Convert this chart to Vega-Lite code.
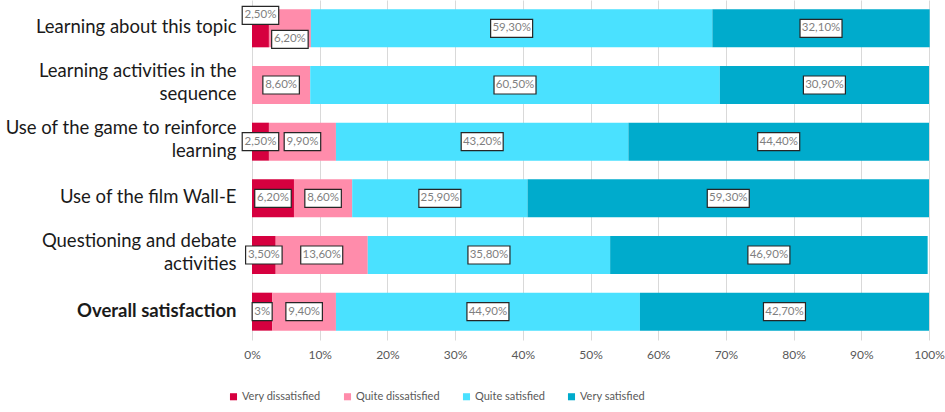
{
  "$schema": "https://vega.github.io/schema/vega-lite/v6.json",
  "width": 677,
  "height": 340,
  "autosize": {"type": "none"},
  "padding": {"left": 252, "top": 0, "right": 16, "bottom": 72},
  "background": "white",
  "config": {"view": {"stroke": null}, "font": "Lato"},
  "data": {
    "values": [
      {"item": "Learning about this topic", "level": "Very dissatisfied", "value": 2.5, "label": "2,50%"},
      {"item": "Learning about this topic", "level": "Quite dissatisfied", "value": 6.2, "label": "6,20%"},
      {"item": "Learning about this topic", "level": "Quite satisfied", "value": 59.3, "label": "59,30%"},
      {"item": "Learning about this topic", "level": "Very satisfied", "value": 32.1, "label": "32,10%"},
      {"item": "Learning activities in the sequence", "level": "Quite dissatisfied", "value": 8.6, "label": "8,60%"},
      {"item": "Learning activities in the sequence", "level": "Quite satisfied", "value": 60.5, "label": "60,50%"},
      {"item": "Learning activities in the sequence", "level": "Very satisfied", "value": 30.9, "label": "30,90%"},
      {"item": "Use of the game to reinforce learning", "level": "Very dissatisfied", "value": 2.5, "label": "2,50%"},
      {"item": "Use of the game to reinforce learning", "level": "Quite dissatisfied", "value": 9.9, "label": "9,90%"},
      {"item": "Use of the game to reinforce learning", "level": "Quite satisfied", "value": 43.2, "label": "43,20%"},
      {"item": "Use of the game to reinforce learning", "level": "Very satisfied", "value": 44.4, "label": "44,40%"},
      {"item": "Use of the film Wall-E", "level": "Very dissatisfied", "value": 6.2, "label": "6,20%"},
      {"item": "Use of the film Wall-E", "level": "Quite dissatisfied", "value": 8.6, "label": "8,60%"},
      {"item": "Use of the film Wall-E", "level": "Quite satisfied", "value": 25.9, "label": "25,90%"},
      {"item": "Use of the film Wall-E", "level": "Very satisfied", "value": 59.3, "label": "59,30%"},
      {"item": "Questioning and debate activities", "level": "Very dissatisfied", "value": 3.5, "label": "3,50%"},
      {"item": "Questioning and debate activities", "level": "Quite dissatisfied", "value": 13.6, "label": "13,60%"},
      {"item": "Questioning and debate activities", "level": "Quite satisfied", "value": 35.8, "label": "35,80%"},
      {"item": "Questioning and debate activities", "level": "Very satisfied", "value": 46.9, "label": "46,90%"},
      {"item": "Overall satisfaction", "level": "Very dissatisfied", "value": 3, "label": "3%"},
      {"item": "Overall satisfaction", "level": "Quite dissatisfied", "value": 9.4, "label": "9,40%"},
      {"item": "Overall satisfaction", "level": "Quite satisfied", "value": 44.9, "label": "44,90%"},
      {"item": "Overall satisfaction", "level": "Very satisfied", "value": 42.7, "label": "42,70%"}
    ]
  },
  "transform": [
    {"calculate": "indexof(['Very dissatisfied','Quite dissatisfied','Quite satisfied','Very satisfied'], datum.level)", "as": "rank"},
    {"stack": "value", "groupby": ["item"], "sort": [{"field": "rank", "order": "ascending"}], "as": ["x0", "x1"]},
    {"calculate": "(datum.x0 + datum.x1) / 2", "as": "mid"},
    {"calculate": "(length(datum.label) * 5.5 + 9) / 6.77 / 2", "as": "halfw"},
    {"calculate": "datum.mid - datum.halfw", "as": "bx0"},
    {"calculate": "datum.mid + datum.halfw", "as": "bx1"},
    {"calculate": "19 + (datum.item == 'Learning about this topic' && datum.rank == 0 ? -13 : (datum.item == 'Learning about this topic' && datum.rank == 1 ? 11 : 0))", "as": "shift"}
  ],
  "encoding": {
    "y": {
      "field": "item",
      "type": "nominal",
      "sort": [
        "Learning about this topic",
        "Learning activities in the sequence",
        "Use of the game to reinforce learning",
        "Use of the film Wall-E",
        "Questioning and debate activities",
        "Overall satisfaction"
      ],
      "scale": {"paddingInner": 0.33, "paddingOuter": 0.165},
      "axis": {
        "title": null,
        "domain": false,
        "ticks": false,
        "grid": false,
        "labelFont": "Lato",
        "labelFontSize": 18.5,
        "labelColor": "#1a1a1a",
        "labelPadding": 16,
        "labelLimit": 320,
        "labelLineHeight": 23,
        "labelOffset": {"condition": {"test": "indexof(['Learning activities in the sequence', 'Use of the game to reinforce learning', 'Questioning and debate activities'], datum.value) >= 0", "value": -14}, "value": -1},
        "labelFontWeight": {"condition": {"test": "datum.value == 'Overall satisfaction'", "value": "bold"}, "value": "normal"},
        "labelExpr": "datum.value == 'Learning activities in the sequence' ? ['Learning activities in the', 'sequence'] : datum.value == 'Use of the game to reinforce learning' ? ['Use of the game to reinforce', 'learning'] : datum.value == 'Questioning and debate activities' ? ['Questioning and debate', 'activities'] : datum.value"
      }
    }
  },
  "layer": [
    {
      "mark": {"type": "bar"},
      "encoding": {
        "x": {
          "field": "x0",
          "type": "quantitative",
          "scale": {"domain": [0, 100], "nice": false},
          "axis": {
            "title": null,
            "domain": false,
            "ticks": false,
            "grid": true,
            "gridColor": "#d9d9d9",
            "gridWidth": 1,
            "values": [0, 10, 20, 30, 40, 50, 60, 70, 80, 90, 100],
            "labelExpr": "datum.value + '%'",
            "labelFlush": false,
            "labelFontSize": 12,
            "labelColor": "#595959",
            "labelPadding": 9
          }
        },
        "x2": {"field": "x1"},
        "color": {
          "field": "level",
          "type": "nominal",
          "scale": {
            "domain": ["Very dissatisfied", "Quite dissatisfied", "Quite satisfied", "Very satisfied"],
            "range": ["#d6003f", "#ff8cab", "#4ae1ff", "#00abcc"]
          },
          "legend": {
            "title": null,
            "orient": "none",
            "legendX": -24,
            "legendY": 391,
            "direction": "horizontal",
            "symbolType": "square",
            "symbolSize": 50,
            "symbolStrokeWidth": 0,
            "labelFontSize": 11,
            "labelColor": "#595959",
            "labelOffset": 3,
            "columnPadding": 21
          }
        }
      }
    },
    {
      "mark": {"type": "bar", "height": 18, "fill": "white", "stroke": "#262626", "strokeWidth": 1.2},
      "encoding": {
        "x": {"field": "bx0", "type": "quantitative"},
        "x2": {"field": "bx1"},
        "yOffset": {"field": "shift", "type": "quantitative", "scale": null}
      }
    },
    {
      "mark": {"type": "text", "color": "#7f7f7f", "fontSize": 11.5, "font": "Lato"},
      "encoding": {
        "x": {"field": "mid", "type": "quantitative"},
        "text": {"field": "label"},
        "yOffset": {"field": "shift", "type": "quantitative", "scale": null}
      }
    }
  ]
}
